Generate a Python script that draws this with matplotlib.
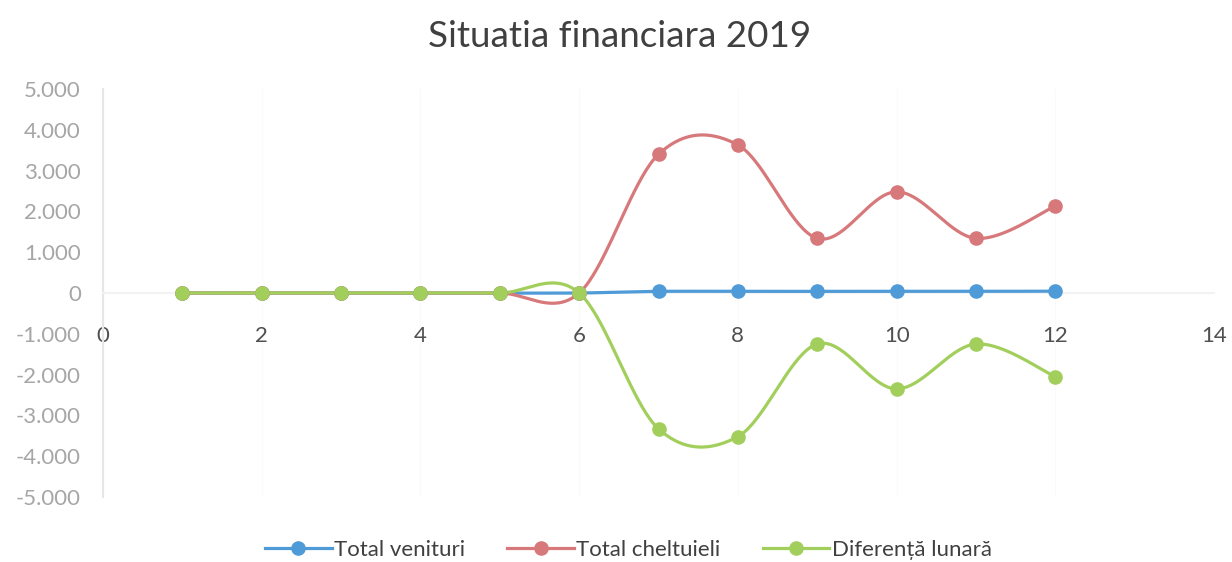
import numpy as np
import matplotlib.pyplot as plt
from matplotlib.ticker import FuncFormatter

plt.rcParams['font.family'] = ['Lato', 'DejaVu Sans']

luni = [1, 2, 3, 4, 5, 6, 7, 8, 9, 10, 11, 12]
venituri = [0, 0, 0, 0, 0, 0, 40, 40, 40, 40, 40, 45]
cheltuieli = [0, 0, 0, 0, 0, 0, 3400, 3630, 1340, 2480, 1340, 2130]
diferenta = [0, 0, 0, 0, 0, 0, -3330, -3520, -1250, -2350, -1250, -2050]

serii = [
    ('Total venituri', venituri, '#4f9bd8'),
    ('Total cheltuieli', cheltuieli, '#d7787b'),
    ('Diferență lunară', diferenta, '#a2cf5c'),
]


# Excel-style smoothed line (Catmull-Rom through the points)
def smooth(x, y, n=40):
    x = np.asarray(x, float)
    y = np.asarray(y, float)
    px = np.concatenate([[x[0]], x, [x[-1]]])
    py = np.concatenate([[y[0]], y, [y[-1]]])
    xs, ys = [], []
    t = np.linspace(0, 1, n)
    for i in range(1, len(px) - 2):
        mx0 = (px[i + 1] - px[i - 1]) / 2
        mx1 = (px[i + 2] - px[i]) / 2
        my0 = (py[i + 1] - py[i - 1]) / 2
        my1 = (py[i + 2] - py[i]) / 2
        h00 = 2 * t**3 - 3 * t**2 + 1
        h10 = t**3 - 2 * t**2 + t
        h01 = -2 * t**3 + 3 * t**2
        h11 = t**3 - t**2
        xs.append(h00 * px[i] + h10 * mx0 + h01 * px[i + 1] + h11 * mx1)
        ys.append(h00 * py[i] + h10 * my0 + h01 * py[i + 1] + h11 * my1)
    return np.concatenate(xs), np.concatenate(ys)


fig = plt.figure(figsize=(12.32, 5.62), dpi=100)
ax = fig.add_axes([0.0836, 0.1157, 0.9018, 0.7259])

handles = []
for nume, vals, culoare in serii:
    sx, sy = smooth(luni, vals)
    ax.plot(sx, sy, color=culoare, lw=2.3, zorder=3)
    ax.plot(luni, vals, 'o', color=culoare, ms=9.5, zorder=4)
    h, = ax.plot([], [], color=culoare, lw=2.3, marker='o', ms=9.5, label=nume)
    handles.append(h)

ax.set_xlim(0, 14)
ax.set_ylim(-5000, 5000)
ax.set_xticks(range(0, 15, 2))
ax.set_yticks(range(-5000, 5001, 1000))
ax.yaxis.set_major_formatter(FuncFormatter(lambda v, p: f'{int(v):,}'.replace(',', '.').replace('−', '-')))

for s in ['top', 'right']:
    ax.spines[s].set_visible(False)
ax.spines['left'].set_color('#e6e6e6')
ax.spines['left'].set_linewidth(1.5)
ax.spines['bottom'].set_position('zero')
ax.spines['bottom'].set_color('#f2f2f2')
ax.spines['bottom'].set_linewidth(1.5)
ax.grid(axis='x', color='#fafafa', lw=1)
ax.set_axisbelow(True)

ax.tick_params(axis='y', length=0, pad=16, labelsize=16, labelcolor='#a6a6a6')
ax.tick_params(axis='x', length=0, pad=24, labelsize=16, labelcolor='#505050')

fig.suptitle('Situatia financiara 2019', x=0.503, y=0.965, fontsize=26.5, color='#404040')

fig.legend(handles=handles, loc='center', bbox_to_anchor=(0.51, 0.022), ncol=3,
           frameon=False, fontsize=16, labelcolor='#404040', handlelength=3,
           columnspacing=1.9, handletextpad=0.1)

fig.savefig('out.png', dpi=100, facecolor='white')
